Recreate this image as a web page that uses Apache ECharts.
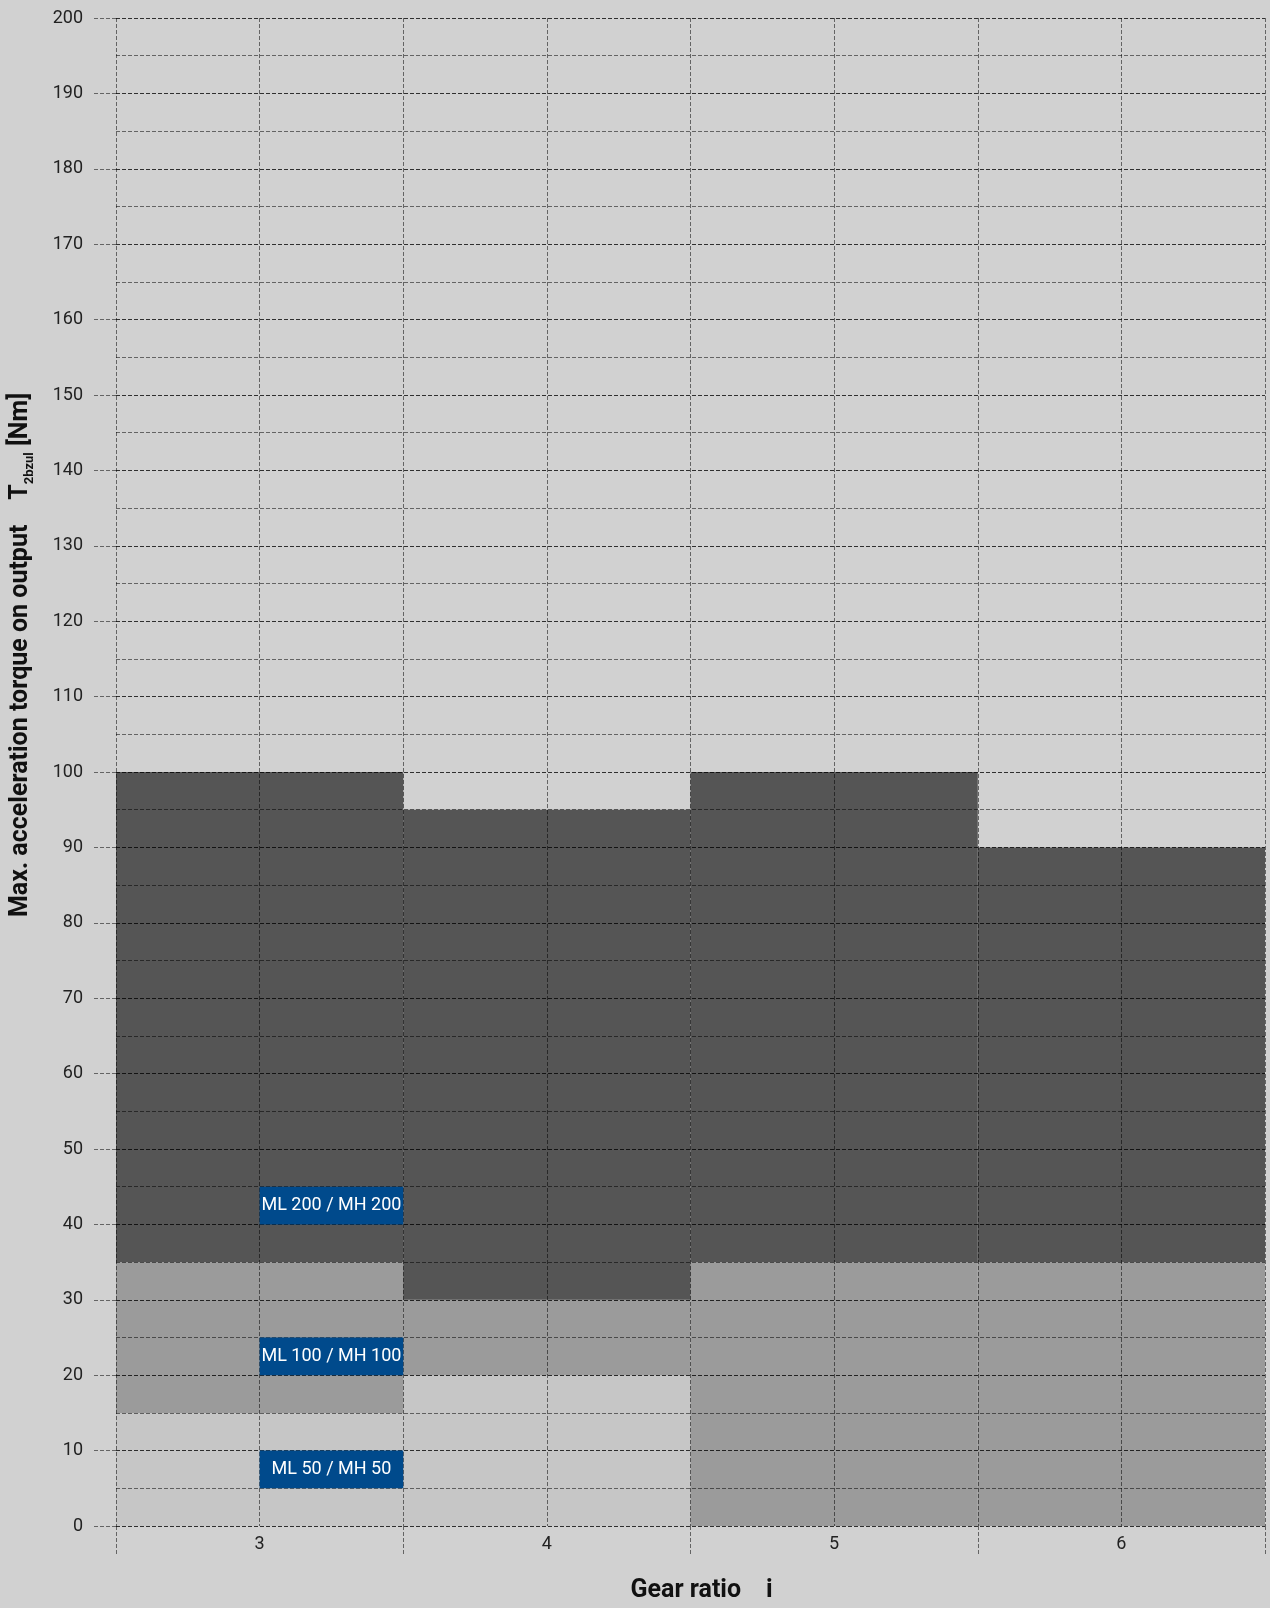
<!DOCTYPE html>
<html>
<head>
<meta charset="utf-8">
<script src="https://cdn.jsdelivr.net/npm/echarts@6/dist/echarts.min.js"></script>
<style>
  html, body { margin: 0; padding: 0; background: #d1d1d1; }
  #chart { width: 1270px; height: 1608px; }
</style>
</head>
<body>
<div id="chart"></div>
<script>
// gear ratios (categories)
const ratios = ['3', '4', '5', '6']
// band heights per ratio, stacked from 0 [Nm]
const ml50 = [15, 20, 0, 0]
const ml100 = [20, 10, 35, 35]
const ml200 = [65, 65, 65, 55]
// blue size tags, drawn in the left half of ratio 3
const tagNames = ['ML 200 / MH 200', 'ML 100 / MH 100', 'ML 50 / MH 50']
const tagLow = [40, 20, 5]
const tagHigh = [45, 25, 10]

const grid = 'rgba(0,0,0,0.52)'
const dash = [4, 2]
const font = 'Roboto, "Noto Sans", sans-serif'

const tagData = tagNames.map((n, i) => [3, 3.5, tagLow[i], tagHigh[i], n])

const option = {
  backgroundColor: '#d1d1d1',
  animation: false,
  grid: { left: 116, right: 5, top: 18, bottom: 78 },
  xAxis: [
    {
      type: 'category',
      data: ratios,
      boundaryGap: true,
      axisLine: { show: false },
      axisTick: { show: true, length: 30, lineStyle: { color: grid, type: dash } },
      axisLabel: { margin: 9, fontSize: 18, color: '#222', fontFamily: font },
      splitLine: { show: false },
      name: 'Gear ratio    i',
      nameLocation: 'middle',
      nameGap: 52,
      nameTextStyle: { fontSize: 25, fontWeight: 'bold', color: '#111', fontFamily: font, padding: [0, 0, 0, 22] }
    },
    {
      type: 'value',
      min: 2.5,
      max: 6.5,
      interval: 0.5,
      position: 'bottom',
      z: 5,
      axisLine: { show: false },
      axisTick: { show: false },
      axisLabel: { show: false },
      splitLine: { show: true, lineStyle: { color: grid, type: dash } }
    }
  ],
  yAxis: [
    {
      type: 'value',
      min: 0,
      max: 200,
      interval: 10,
      z: 5,
      axisLine: { show: false },
      axisTick: { show: true, length: 23, lineStyle: { color: grid, type: dash } },
      axisLabel: { margin: 33, fontSize: 18, color: '#222', fontFamily: font },
      splitLine: { show: true, lineStyle: { color: grid, type: dash } }
    },
    {
      type: 'value',
      min: 0,
      max: 200,
      interval: 5,
      position: 'left',
      z: 5,
      axisLine: { show: false },
      axisTick: { show: false },
      axisLabel: { show: false },
      splitLine: { show: true, lineStyle: { color: grid, type: dash } }
    }
  ],
  graphic: [
    {
      type: 'text',
      x: 21,
      y: 655,
      rotation: Math.PI / 2,
      style: {
        text: '{b|Max. acceleration torque on output    T}{s|2bzul}{b| [Nm]}',
        align: 'center',
        verticalAlign: 'middle',
        rich: {
          b: { fontSize: 25, fontWeight: 'bold', fill: '#111', fontFamily: font, lineHeight: 30 },
          s: { fontSize: 13, fontWeight: 'bold', fill: '#111', fontFamily: font, verticalAlign: 'bottom', lineHeight: 30 }
        }
      }
    }
  ],
  series: [
    { name: 'ML 50', type: 'bar', stack: 't', xAxisIndex: 0, yAxisIndex: 0, data: ml50, barCategoryGap: '0%', itemStyle: { color: '#c6c6c6' } },
    { name: 'ML 100', type: 'bar', stack: 't', xAxisIndex: 0, yAxisIndex: 0, data: ml100, barCategoryGap: '0%', itemStyle: { color: '#9b9b9b' } },
    { name: 'ML 200', type: 'bar', stack: 't', xAxisIndex: 0, yAxisIndex: 0, data: ml200, barCategoryGap: '0%', itemStyle: { color: '#555555' } },
    {
      type: 'custom',
      xAxisIndex: 1,
      yAxisIndex: 0,
      z: 20,
      data: tagData,
      renderItem (params, api) {
        const p0 = api.coord([api.value(0), api.value(3)])
        const p1 = api.coord([api.value(1), api.value(2)])
        return {
          type: 'rect',
          shape: { x: p0[0], y: p0[1], width: p1[0] - p0[0], height: p1[1] - p0[1] },
          style: { fill: '#004a8c' },
          textContent: {
            style: { text: tagNames[params.dataIndex], fill: '#fff', fontSize: 18, fontFamily: font }
          },
          textConfig: { position: 'inside' }
        }
      }
    }
  ]
}

const chart = echarts.init(document.getElementById('chart'))
chart.setOption(option)
</script>
</body>
</html>
